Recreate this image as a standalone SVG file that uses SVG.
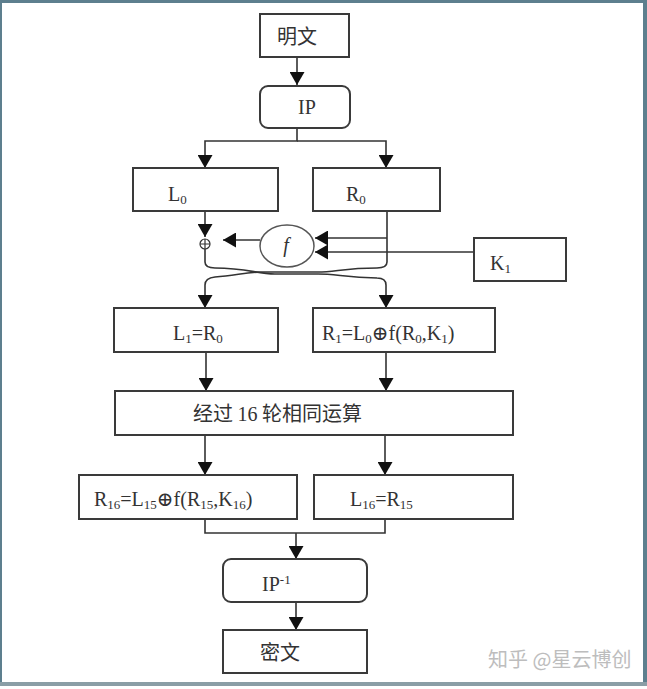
<svg xmlns="http://www.w3.org/2000/svg" width="647" height="689" viewBox="0 0 647 689">
<style>
.box{fill:#fff;stroke:#3a3a3a;stroke-width:2}
.ln{fill:none;stroke:#333;stroke-width:1.6}
.lat{font-family:"Liberation Serif","DejaVu Serif",serif;font-size:20px;fill:#333}
.cjk{font-family:"Noto Sans CJK SC","Noto Sans",sans-serif;font-size:20px;fill:#333}
.sub{font-size:13px}
</style>
<defs>
<marker id="ah" viewBox="0 0 13 15" refX="13" refY="7.5" markerWidth="13" markerHeight="15" markerUnits="userSpaceOnUse" orient="auto">
<path d="M0,0 L13,7.5 L0,15 Z" fill="#111"/>
</marker>
</defs>
<rect width="647" height="689" fill="#fff"/>
<g id="frame" fill="#5d7f8e">
<rect x="0" y="0" width="647" height="3"/>
<rect x="0" y="0" width="2" height="686"/>
<rect x="643" y="0" width="4" height="686"/>
<rect x="0" y="682" width="647" height="4" fill="#8a9ea6"/>
</g>
<g id="connectors">
<path class="ln" d="M297,57 V85" marker-end="url(#ah)"/>
<path class="ln" d="M297,128 V141 H205 V168" marker-end="url(#ah)"/>
<path class="ln" d="M297,141 H386 V168" marker-end="url(#ah)"/>
<path class="ln" d="M205,211 V237" marker-end="url(#ah)"/>
<path class="ln" d="M260,240 H223" marker-end="url(#ah)"/>
<path class="ln" d="M387,211 V262 Q387,268 377,268 C345,268 335,272 318,272 L262,272 C245,272 235,276 215,277 Q205,278 205,285 V308" marker-end="url(#ah)"/>
<path class="ln" d="M205,249 V262 Q205,268 215,268 C247,268 257,274 275,274 L318,274 C335,274 345,277 377,278 Q386,278 386,285 V308" marker-end="url(#ah)"/>
<path class="ln" d="M387,238 H315" marker-end="url(#ah)"/>
<path class="ln" d="M474,252 H315" marker-end="url(#ah)"/>
<path class="ln" d="M206,352 V391" marker-end="url(#ah)"/>
<path class="ln" d="M386,352 V391" marker-end="url(#ah)"/>
<path class="ln" d="M205,435 V475" marker-end="url(#ah)"/>
<path class="ln" d="M385,435 V475" marker-end="url(#ah)"/>
<path class="ln" d="M205,519 V533 H385 V519"/>
<path class="ln" d="M296,533 V559" marker-end="url(#ah)"/>
<path class="ln" d="M296,602 V630" marker-end="url(#ah)"/>
</g>
<g id="n-mingwen"><rect class="box" x="260" y="14" width="89" height="43"/><text class="cjk" x="297" y="44" text-anchor="middle">明文</text></g>
<g id="n-ip"><rect class="box" x="260" y="86" width="90" height="42" rx="8"/><text class="lat" x="307" y="114" text-anchor="middle">IP</text></g>
<g id="n-l0"><rect class="box" x="133" y="168" width="145" height="43"/><text class="lat" x="168" y="201">L<tspan class="sub" dy="3">0</tspan></text></g>
<g id="n-r0"><rect class="box" x="313" y="168" width="127" height="43"/><text class="lat" x="346" y="201">R<tspan class="sub" dy="3">0</tspan></text></g>
<g id="n-xor"><circle cx="205" cy="244" r="5" fill="#fff" stroke="#333" stroke-width="1.2"/><path d="M200,244 H210 M205,239 V249" stroke="#333" stroke-width="1.2"/></g>
<g id="n-f"><ellipse cx="287" cy="246" rx="27" ry="21" fill="#fff" stroke="#555" stroke-width="1.5"/><text class="lat" x="286" y="252" text-anchor="middle" font-size="13" font-style="italic">f</text></g>
<g id="n-k1"><rect class="box" x="474" y="238" width="92" height="43"/><text class="lat" x="490" y="270">K<tspan class="sub" dy="3">1</tspan></text></g>
<g id="n-l1"><rect class="box" x="114" y="308" width="164" height="44"/><text class="lat" x="173" y="340">L<tspan class="sub" dy="3">1</tspan><tspan dy="-3">=R</tspan><tspan class="sub" dy="3">0</tspan></text></g>
<g id="n-r1"><rect class="box" x="313" y="308" width="182" height="44"/><text class="lat" x="322" y="340">R<tspan class="sub" dy="3">1</tspan><tspan dy="-3">=L</tspan><tspan class="sub" dy="3">0</tspan><tspan dy="-3">⊕f(R</tspan><tspan class="sub" dy="3">0</tspan><tspan dy="-3">,K</tspan><tspan class="sub" dy="3">1</tspan><tspan dy="-3">)</tspan></text></g>
<g id="n-16"><rect class="box" x="115" y="391" width="398" height="44"/><text class="cjk" x="193" y="421">经过 <tspan font-family="Liberation Serif,serif">16</tspan> 轮相同运算</text></g>
<g id="n-r16"><rect class="box" x="79" y="475" width="218" height="44"/><text class="lat" x="94" y="506">R<tspan class="sub" dy="3">16</tspan><tspan dy="-3">=L</tspan><tspan class="sub" dy="3">15</tspan><tspan dy="-3">⊕f(R</tspan><tspan class="sub" dy="3">15</tspan><tspan dy="-3">,K</tspan><tspan class="sub" dy="3">16</tspan><tspan dy="-3">)</tspan></text></g>
<g id="n-l16"><rect class="box" x="314" y="475" width="199" height="44"/><text class="lat" x="350" y="506">L<tspan class="sub" dy="3">16</tspan><tspan dy="-3">=R</tspan><tspan class="sub" dy="3">15</tspan></text></g>
<g id="n-ip1"><rect class="box" x="223" y="559" width="144" height="43" rx="8"/><text class="lat" x="262" y="591">IP<tspan class="sub" dy="-7">-1</tspan></text></g>
<g id="n-miwen"><rect class="box" x="223" y="630" width="144" height="43"/><text class="cjk" x="280" y="660" text-anchor="middle">密文</text></g>
<text x="488" y="667" font-family="Noto Sans CJK SC,sans-serif" font-size="20" fill="#bdbdbd">知乎 @星云博创</text>
</svg>
